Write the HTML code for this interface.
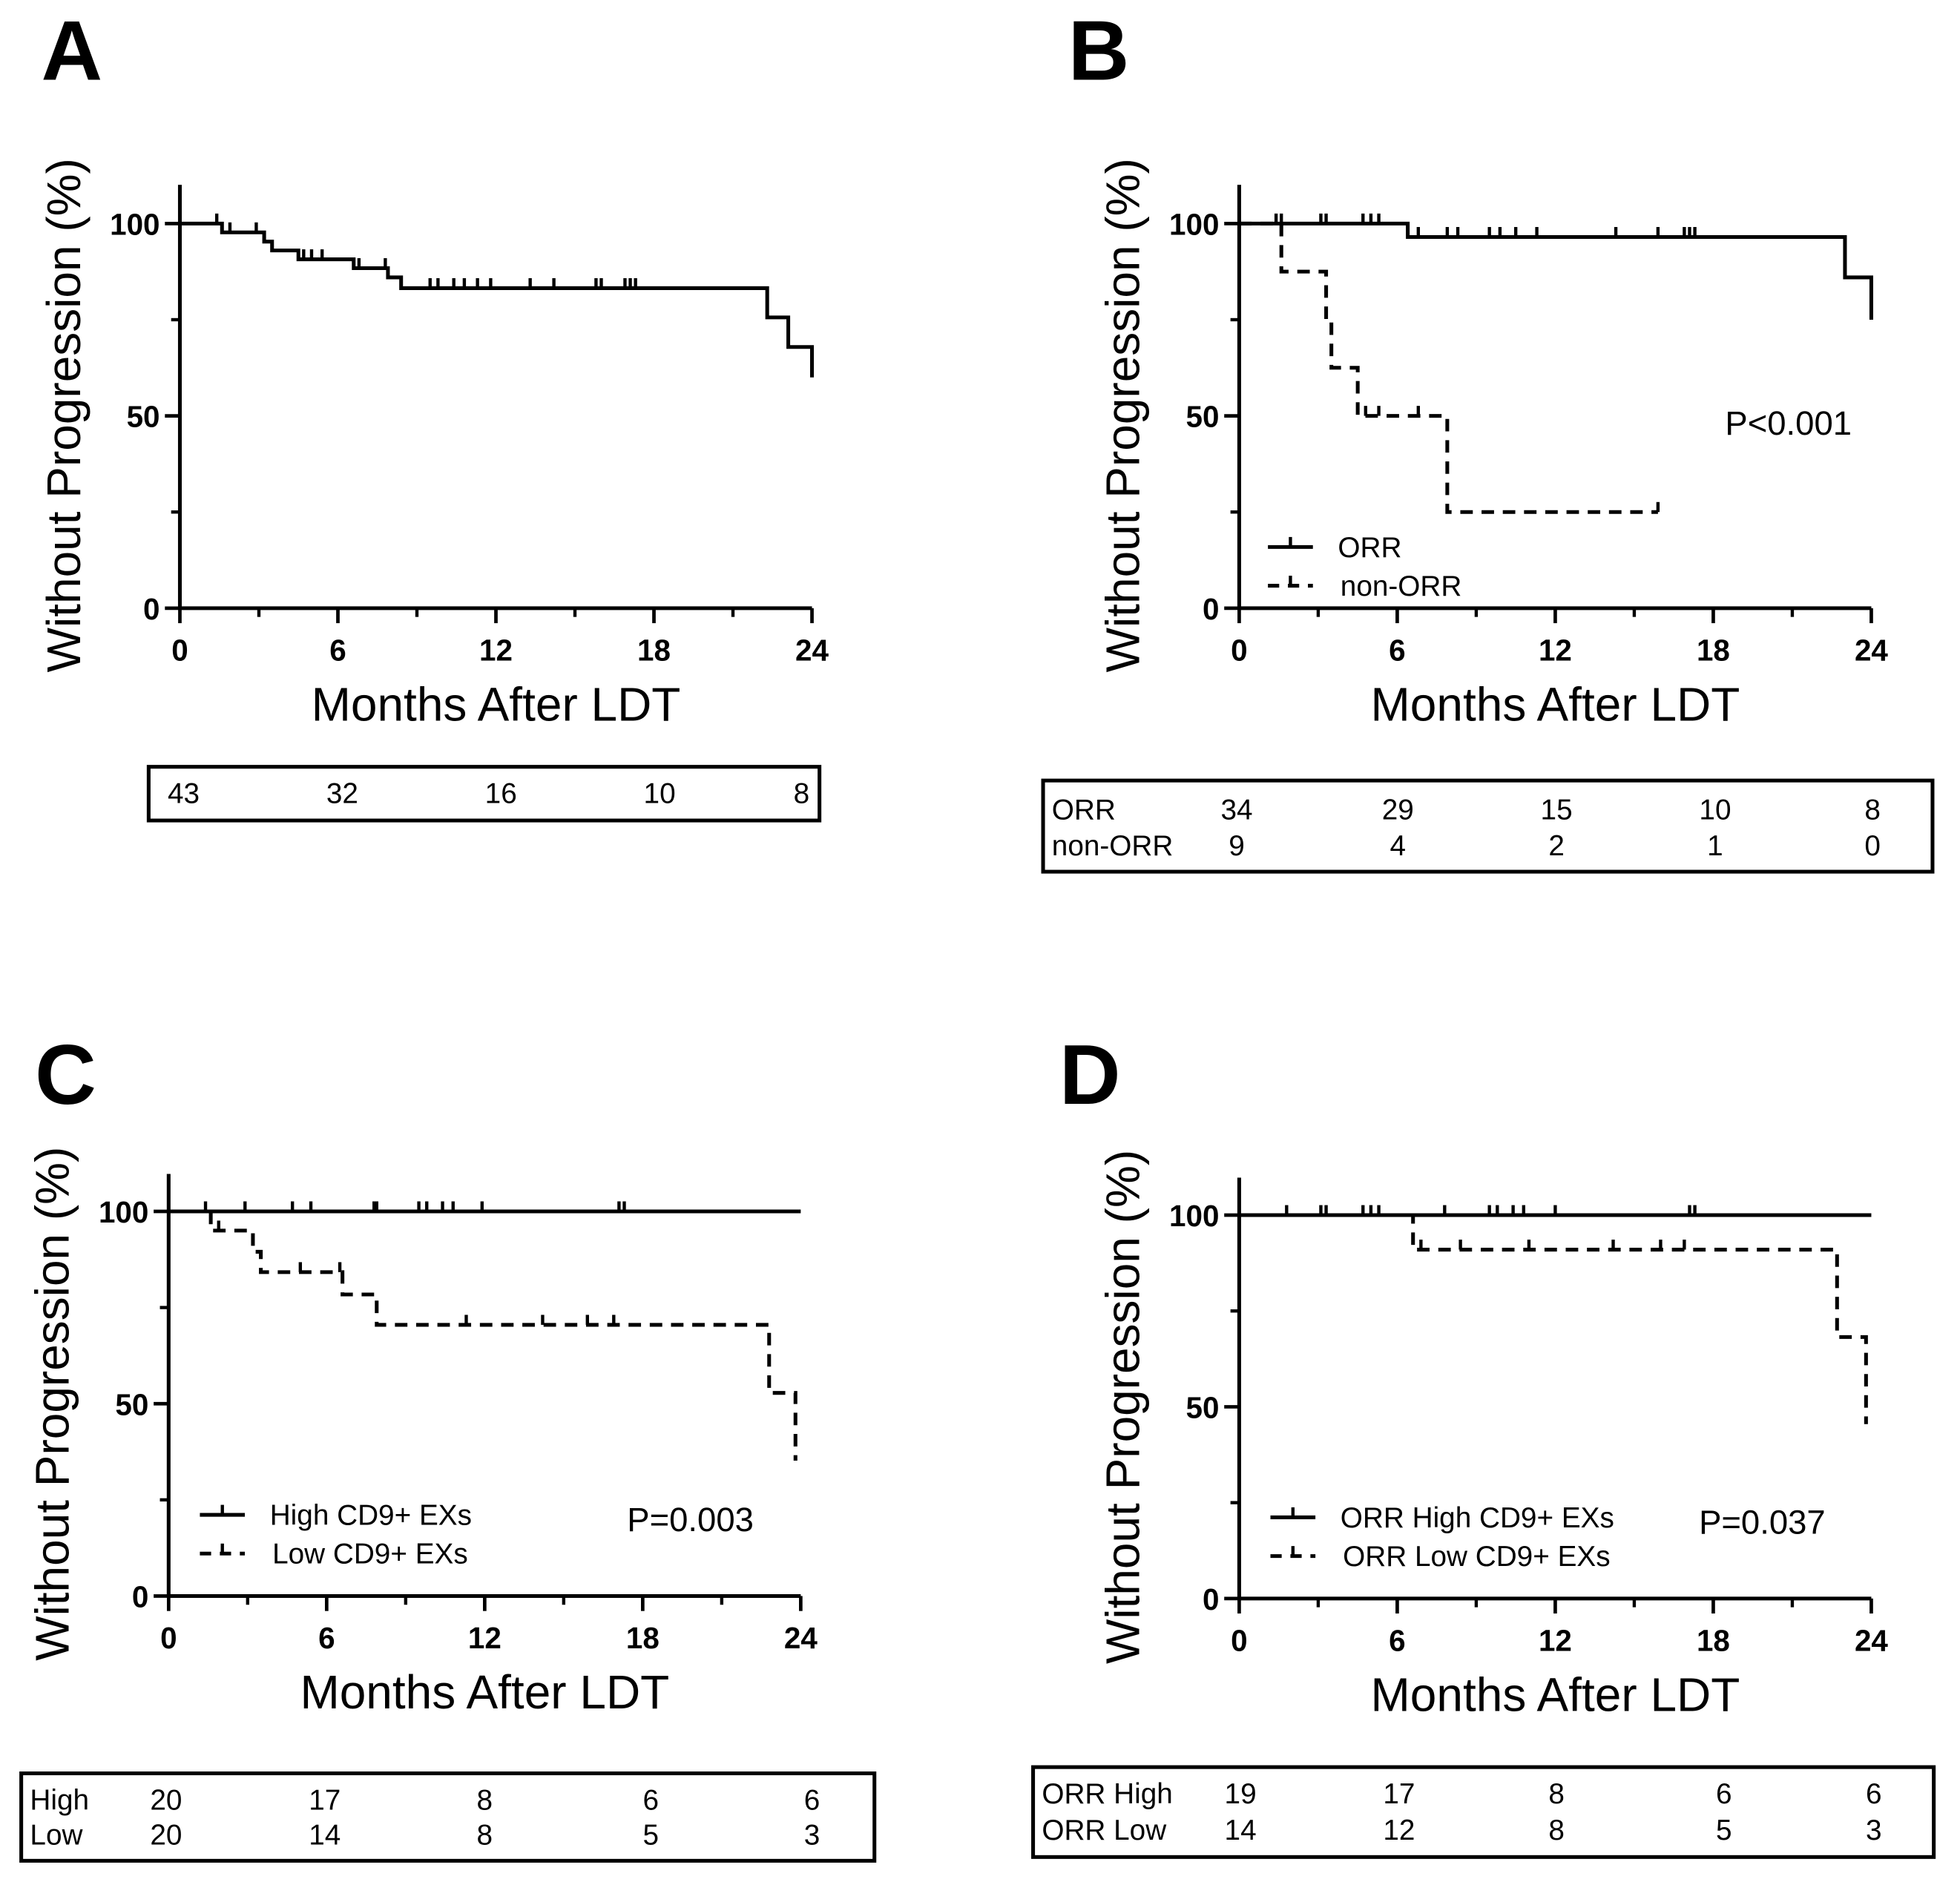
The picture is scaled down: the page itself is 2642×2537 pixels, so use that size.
<!DOCTYPE html>
<html><head><meta charset="utf-8"><style>
html,body{margin:0;padding:0;background:#fff}
svg{display:block}
text{font-family:"Liberation Sans",Arial,sans-serif;fill:#000}
</style></head><body>
<svg id="fig" width="2642" height="2537" viewBox="0 0 1569 1507" preserveAspectRatio="none" xmlns="http://www.w3.org/2000/svg"></svg>
<script>
const xTicks=[0,6,12,18,24];
const yTicks=[0,50,100];
// Panel A
const aTimes=[1.6,3.2,3.5,4.5,6.6,7.9,8.4,22.3,23.1,24];
const aVals=[97.7,95.3,93,90.7,88.4,86,83.2,75.6,67.9,60];
const aCens=[1.4,1.9,2.9,4.7,5.0,5.4,6.8,7.8,9.5,9.8,10.4,10.8,11.3,11.8,13.3,14.2,15.8,16.0,16.9,17.1,17.3];
// Panel B
const bOrrTimes=[6.4,23,24];
const bOrrVals=[96.5,86,75];
const bOrrCens=[1.4,1.6,3.1,3.3,4.7,5.0,5.3,6.8,7.9,8.3,9.5,9.9,10.5,11.3,14.3,15.9,16.9,17.1,17.3];
const bNonTimes=[1.6,3.3,3.5,4.5,7.9,15.9];
const bNonVals=[87.5,75,62.5,50,25,25];
const bNonCens=[4.8,5.3,6.8,15.9];
// Panel C
const cHighTimes=[24];
const cHighVals=[100];
const cHighCens=[1.4,2.9,4.7,5.4,7.8,7.9,9.5,9.8,10.4,10.8,11.9,17.1,17.3];
const cLowTimes=[1.6,3.2,3.5,6.6,7.9,22.8,23.8];
const cLowVals=[95,89.5,84.2,78.4,70.5,52.8,35.2];
const cLowCens=[1.9,5.0,6.5,11.3,14.2,15.9,16.9];
// Panel D
const dHighTimes=[24];
const dHighVals=[100];
const dHighCens=[1.8,3.1,3.3,4.7,5.0,5.3,7.8,9.5,9.8,10.4,10.8,12.0,17.1,17.3];
const dLowTimes=[6.6,22.7,23.8];
const dLowVals=[91,68.2,45.5];
const dLowCens=[6.9,8.4,11,14.2,16,16.9];

const svg=document.getElementById('fig');
const NS='http://www.w3.org/2000/svg';
function mk(tag,attrs,parent){const e=document.createElementNS(NS,tag);for(const k in attrs)e.setAttribute(k,attrs[k]);(parent||svg).appendChild(e);return e;}
function txt(s,x,y,size,opts,parent){const t=mk('text',Object.assign({x:x,y:y,'font-size':size},opts||{}),parent);t.textContent=s;return t;}

function panel(p){
  const g=mk('g',{});
  
  
  const X=v=>p.x0+(p.x1-p.x0)*v/24;
  const Y=v=>p.y0+(p.y100-p.y0)*v/100;
  const L=txt(p.id,p.lx,p.ly,68,{'font-weight':'bold'},g);
  
  const ax=mk('path',{d:`M${p.x0} ${p.top} V${p.y0} H${p.x1}`,stroke:'#000','stroke-width':3,fill:'none'},g);
  
  [3,9,15,21].forEach(v=>mk('line',{x1:X(v),x2:X(v),y1:p.y0,y2:p.y0+7,stroke:'#000','stroke-width':2.6},g));
  [25,75].forEach(v=>mk('line',{x1:p.x0-7,x2:p.x0,y1:Y(v),y2:Y(v),stroke:'#000','stroke-width':2.6},g));
  xTicks.forEach(v=>{mk('line',{x1:X(v),x2:X(v),y1:p.y0,y2:p.y0+12,stroke:'#000','stroke-width':2.8},g);
    const t=txt(String(v),X(v),p.y0+42,24,{'font-weight':'bold','text-anchor':'middle'},g);
    });
  yTicks.forEach(v=>{mk('line',{x1:p.x0-12,x2:p.x0,y1:Y(v),y2:Y(v),stroke:'#000','stroke-width':2.8},g);
    const t=txt(String(v),p.x0-16,Y(v)+9,24,{'font-weight':'bold','text-anchor':'end'},g);
    });
  const xt=txt('Months After LDT',(p.x0+p.x1)/2,p.y0+90,38,{'text-anchor':'middle'},g);
  
  const ym=(p.top+p.y0)/2+15;
  const yt=txt('Without Progression (%)',0,0,38,{'text-anchor':'middle',transform:`translate(${p.x0-80},${ym}) rotate(-90)`},g);
  
  p.series.forEach(s=>{
    let d=`M${X(0)} ${Y(100)}`;
    s.t.forEach((t,i)=>{d+=` H${X(t)} V${Y(s.v[i])}`;});
    const path=mk('path',{d:d,stroke:'#000','stroke-width':3,fill:'none','stroke-dasharray':s.dash?'10 7':'none'},g);
    
    s.c.forEach(c=>{let val=100;s.t.forEach((t,i)=>{if(t<=c)val=s.v[i];});
      const m=mk('line',{x1:X(c),x2:X(c),y1:Y(val),y2:Y(val)-8,stroke:'#000','stroke-width':2.6},g);
      });
  });
  if(p.legend){p.legend.forEach((l,i)=>{const y=p.legY+i*31;
    const lg=mk('g',{},g);
    mk('line',{x1:p.legX,x2:p.legX+36,y1:y,y2:y,stroke:'#000','stroke-width':3,'stroke-dasharray':i?'9 7':'none'},lg);
    mk('line',{x1:p.legX+18,x2:p.legX+18,y1:y,y2:y-8,stroke:'#000','stroke-width':2.6},lg);
    txt(l,p.legX+56+i*2,y+8,23,{},lg);});}
  if(p.pval){const t=txt(p.pval,p.px,p.py,27,{},g);}
  const rb=mk('rect',{x:p.bx,y:p.by,width:p.bw,height:p.bh,fill:'none',stroke:'#000','stroke-width':3},g);
  
  p.rows.forEach((r,ri)=>{const y=p.ry[ri];
    if(r.label){txt(r.label,p.bx+7,y,23,{},g);}
    r.n.forEach((n,i)=>{const t=txt(String(n),p.nx[i],y,23,{'text-anchor':i==4&&p.id=='A'?'end':'middle'},g);
      });});
}
panel({id:'A',lx:33,ly:64,x0:144,x1:650,y0:487,y100:179,top:148,
  series:[{name:'all',t:aTimes,v:aVals,c:aCens}],
  bx:119,by:614,bw:537,bh:43,ry:[643],nx:[147,274,401,528,648],rows:[{label:'',n:[43,32,16,10,8]}]});
panel({id:'B',lx:855,ly:64,x0:992,x1:1498,y0:487,y100:179,top:148,
  series:[{name:'orr',t:bOrrTimes,v:bOrrVals,c:bOrrCens},{name:'non-orr',t:bNonTimes,v:bNonVals,c:bNonCens,dash:true}],
  legend:['ORR','non-ORR'],legX:1015,legY:438,pval:'P<0.001',px:1381,py:348,
  bx:835,by:625,bw:712,bh:73,ry:[656,685],nx:[990,1119,1246,1373,1499],
  rows:[{label:'ORR',n:[34,29,15,10,8]},{label:'non-ORR',n:[9,4,2,1,0]}]});
panel({id:'C',lx:28,ly:884,x0:135,x1:641,y0:1278,y100:970,top:940,
  series:[{name:'high',t:cHighTimes,v:cHighVals,c:cHighCens},{name:'low',t:cLowTimes,v:cLowVals,c:cLowCens,dash:true}],
  legend:['High CD9+ EXs','Low CD9+ EXs'],legX:160,legY:1213,pval:'P=0.003',px:502,py:1226,
  bx:17,by:1420,bw:683,bh:70,ry:[1449,1477],nx:[133,260,388,521,650],
  rows:[{label:'High',n:[20,17,8,6,6]},{label:'Low',n:[20,14,8,5,3]}]});
panel({id:'D',lx:848,ly:884,x0:992,x1:1498,y0:1280,y100:973,top:943,
  series:[{name:'orr-high',t:dHighTimes,v:dHighVals,c:dHighCens},{name:'orr-low',t:dLowTimes,v:dLowVals,c:dLowCens,dash:true}],
  legend:['ORR High CD9+ EXs','ORR Low CD9+ EXs'],legX:1017,legY:1215,pval:'P=0.037',px:1360,py:1228,
  bx:827,by:1415,bw:721,bh:72,ry:[1444,1473],nx:[993,1120,1246,1380,1500],
  rows:[{label:'ORR High',n:[19,17,8,6,6]},{label:'ORR Low',n:[14,12,8,5,3]}]});
</script>
</body></html>
